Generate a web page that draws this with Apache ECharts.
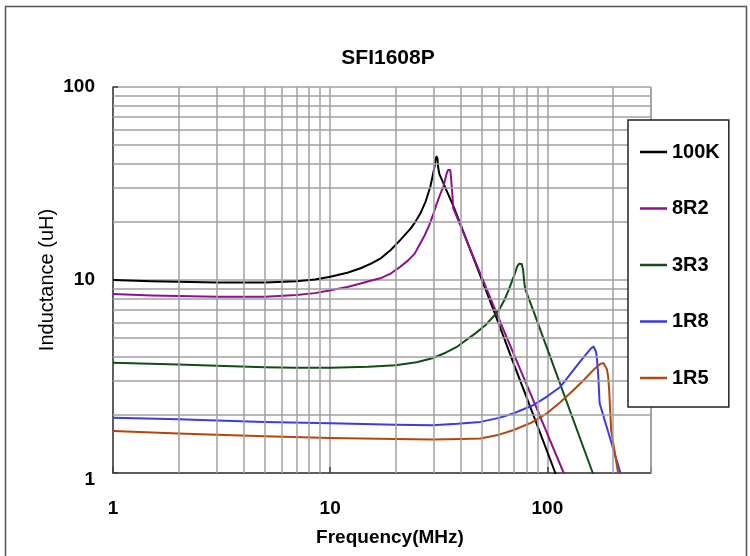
<!DOCTYPE html>
<html>
<head>
<meta charset="utf-8">
<script src="https://cdn.jsdelivr.net/npm/echarts@6/dist/echarts.min.js"></script>
<style>
html,body{margin:0;padding:0;background:#fff;}
#main{width:750px;height:556px;}
</style>
</head>
<body>
<div id="main"></div>
<script>
// ---- data ----
const seriesNames = ['100K', '8R2', '3R3', '1R8', '1R5'];
const seriesColors = ['#000000', '#8c128c', '#104e14', '#3b3be6', '#b2460f'];

const freq100K = [1, 1.5, 2, 3, 5, 7, 8.5, 10, 12, 13.8, 15.5, 17, 19, 21, 23.5, 24.8, 26, 27.5, 28.9, 29.7, 30.2, 30.6, 30.9, 31.2, 31.4, 31.8, 37, 45.8, 56.5, 70, 85, 108.8, 115];
const ind100K  = [10.0, 9.85, 9.78, 9.72, 9.72, 9.85, 10.05, 10.4, 10.9, 11.5, 12.2, 12.9, 14.3, 16.1, 18.5, 20.2, 22.1, 25.5, 30.4, 35, 38.5, 42.5, 43.6, 42.5, 38.5, 35.5, 24, 12.9, 7.0, 3.68, 2.08, 1.0, 0.86];

const freq8R2 = [1, 1.5, 2, 3, 5, 7, 8.5, 9.9, 12, 13.8, 15.5, 17, 19, 21, 22.8, 24.5, 26, 27.2, 28.4, 29.9, 30.8, 31.8, 32.5, 33.2, 33.8, 34.4, 34.9, 35.35, 35.7, 36.0, 36.4, 36.9, 62.9, 89.6, 118.9, 125];
const ind8R2  = [8.45, 8.3, 8.25, 8.18, 8.2, 8.35, 8.55, 8.82, 9.2, 9.6, 9.95, 10.2, 10.8, 11.7, 12.6, 13.7, 15.5, 17, 18.9, 22.1, 24.5, 27, 28.8, 30.4, 33, 35.7, 37.2, 38, 37.2, 34, 29, 23.5, 5.5, 2.14, 1.0, 0.87];

const freq3R3 = [1, 2, 3, 5, 7, 10, 15, 20, 25, 29.5, 34, 38.5, 46.6, 52, 56.3, 60.3, 63.5, 66.3, 68.3, 70, 72.5, 74, 75.1, 76.2, 77.3, 78.2, 79, 85.9, 92.9, 161.8, 170];
const ind3R3  = [3.73, 3.65, 3.6, 3.53, 3.51, 3.51, 3.55, 3.62, 3.75, 3.93, 4.2, 4.52, 5.29, 5.85, 6.45, 7.1, 7.9, 8.87, 9.7, 10.4, 11.7, 12.15, 12.3, 12.1, 11.3, 9.8, 9.0, 7.0, 5.5, 1.0, 0.86];

const freq1R8 = [1, 2, 3, 5, 10, 20, 29.5, 38.5, 49.1, 60, 70, 85, 99.6, 115, 132, 142, 152, 158, 163, 165.5, 167.5, 169.5, 171.5, 174, 217, 225];
const ind1R8  = [1.935, 1.9, 1.87, 1.84, 1.81, 1.78, 1.77, 1.8, 1.84, 1.93, 2.04, 2.23, 2.49, 2.8, 3.42, 3.8, 4.17, 4.4, 4.52, 4.48, 4.25, 3.8, 3.2, 2.3, 1.0, 0.88];

const freq1R5 = [1, 2, 3, 5, 10, 20, 29.5, 40, 49.1, 60, 70, 85, 99.6, 115, 132, 148, 163, 170, 176, 181, 184.5, 188, 190.5, 192.5, 194.5, 196.6, 211.7, 220];
const ind1R5  = [1.65, 1.6, 1.58, 1.55, 1.52, 1.5, 1.49, 1.5, 1.51, 1.58, 1.67, 1.83, 2.04, 2.33, 2.69, 3.05, 3.42, 3.58, 3.68, 3.71, 3.66, 3.45, 3.15, 2.7, 2.15, 1.67, 1.0, 0.85];

const xTickLabels = [1, 10, 100];
const yTickLabels = [1, 10, 100];
const xMinorGrid = [2, 3, 4, 5, 6, 7, 8, 9, 20, 30, 40, 50, 60, 70, 80, 90, 200, 300];
const yMinorGrid = [2, 3, 4, 5, 6, 7, 8, 9, 20, 30, 40, 50, 60, 70, 80, 90];

const freqs = [freq100K, freq8R2, freq3R3, freq1R8, freq1R5];
const inds  = [ind100K, ind8R2, ind3R3, ind1R8, ind1R5];

// ---- chart ----
const FONT = "'Liberation Sans', Arial, sans-serif";
const GRID_COLOR = '#a0a0a0';
const chart = echarts.init(document.getElementById('main'), null, {renderer: 'canvas'});

const curveSeries = seriesNames.map((name, i) => ({
  name: name,
  type: 'line',
  data: freqs[i].map((f, k) => [f, inds[i][k]]),
  symbol: 'none',
  smooth: false,
  clip: true,
  z: 3,
  lineStyle: {color: seriesColors[i], width: 2, join: 'round'},
  itemStyle: {color: seriesColors[i]}
}));

const gridSeries = {
  name: 'grid',
  type: 'line',
  data: [],
  silent: true,
  z: 1,
  markLine: {
    silent: true,
    symbol: ['none', 'none'],
    label: {show: false},
    animation: false,
    lineStyle: {color: GRID_COLOR, width: 1.5, type: 'solid'},
    emphasis: {disabled: true},
    data: xMinorGrid.map(v => ({xAxis: v})).concat(yMinorGrid.map(v => ({yAxis: v})))
  }
};

const isTick = (arr, v) => arr.some(t => Math.abs(t - v) < 1e-6 * t);

chart.setOption({
  animation: false,
  backgroundColor: '#ffffff',
  textStyle: {fontFamily: FONT},
  title: {
    text: 'SFI1608P',
    left: 388,
    textAlign: 'center',
    top: 48,
    padding: 0,
    textStyle: {fontFamily: FONT, fontWeight: 'bold', fontSize: 21, color: '#000'}
  },
  grid: {left: 113, right: 99, top: 87, bottom: 83, containLabel: false},
  legend: {
    data: seriesNames,
    orient: 'vertical',
    left: 628,
    top: 120,
    icon: 'rect',
    itemWidth: 27,
    itemHeight: 2.5,
    itemGap: 36.5,
    padding: [22, 9, 19, 12],
    backgroundColor: '#ffffff',
    borderColor: '#222222',
    borderWidth: 1.5,
    borderRadius: 0,
    z: 10,
    selectedMode: false,
    textStyle: {fontFamily: FONT, fontWeight: 'bold', fontSize: 20, color: '#000'}
  },
  xAxis: {
    type: 'log',
    logBase: 10,
    min: 1,
    max: 300,
    name: 'Frequency(MHz)',
    nameLocation: 'middle',
    nameGap: 55,
    nameTextStyle: {fontFamily: FONT, fontWeight: 'bold', fontSize: 19, color: '#000', padding: [0, 0, 0, 16]},
    axisLine: {show: true, lineStyle: {color: '#404040', width: 1.5}},
    axisTick: {show: true, inside: true, length: 6, lineStyle: {color: '#404040', width: 1.5}},
    minorTick: {show: false},
    splitLine: {show: true, lineStyle: {color: GRID_COLOR, width: 1.5}},
    axisLabel: {
      margin: 26,
      fontFamily: FONT, fontWeight: 'bold', fontSize: 19, color: '#000',
      formatter: v => isTick(xTickLabels, v) ? String(Math.round(v)) : ''
    }
  },
  yAxis: {
    type: 'log',
    logBase: 10,
    min: 1,
    max: 100,
    name: 'Inductance (uH)',
    nameLocation: 'middle',
    nameGap: 56,
    nameMoveOverlap: false,
    nameRotate: 90,
    nameTextStyle: {fontFamily: FONT, fontWeight: 'normal', fontSize: 20, color: '#000'},
    axisLine: {show: true, lineStyle: {color: '#404040', width: 1.5}},
    axisTick: {show: true, inside: true, length: 5, lineStyle: {color: '#404040', width: 1.5}},
    splitLine: {show: true, lineStyle: {color: GRID_COLOR, width: 1.5}},
    axisLabel: {
      margin: 18,
      fontFamily: FONT, fontWeight: 'bold', fontSize: 19, color: '#000',
      formatter: v => {
        if (!isTick(yTickLabels, v)) return '';
        const s = String(Math.round(v));
        return Math.round(v) === 1 ? '{low|' + s + '}' : s;
      },
      rich: {low: {fontFamily: FONT, fontWeight: 'bold', fontSize: 19, color: '#000', padding: [14, 0, 0, 0]}}
    }
  },
  graphic: [{
    type: 'rect',
    silent: true,
    z: 100,
    shape: {x: 5.5, y: 6.5, width: 741, height: 570},
    style: {fill: 'none', stroke: '#555555', lineWidth: 1.5}
  }],
  series: [gridSeries].concat(curveSeries)
});
</script>
</body>
</html>
